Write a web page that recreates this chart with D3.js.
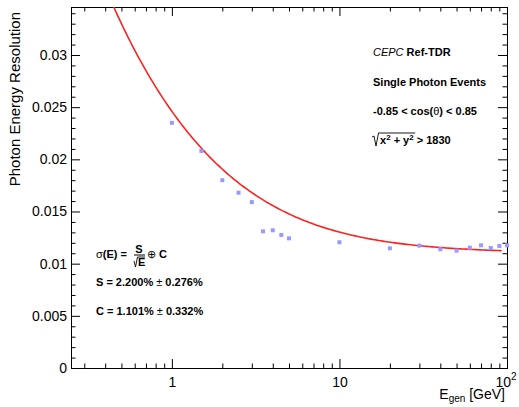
<!DOCTYPE html>
<html>
<head>
<meta charset="utf-8">
<script src="https://cdn.jsdelivr.net/npm/d3@7"></script>
<style>
  body { margin: 0; background: #fff; }
  text { font-family: "Liberation Sans", Arial, Helvetica, sans-serif; }
</style>
</head>
<body>
<script>
// chart data
var energies = [1, 1.5, 2, 2.5, 3, 3.5, 4, 4.5, 5, 10, 20, 30, 40, 50, 60, 70, 80, 90, 100];
var resolution = [0.0235, 0.0208, 0.0180, 0.0168, 0.0159, 0.0131, 0.0132, 0.01275, 0.01243,
                  0.01205, 0.01147, 0.01173, 0.01138, 0.01125, 0.01153, 0.01176, 0.0115, 0.0117, 0.01176];

// fit parameters shown in the legend (stochastic term S, constant term C)
var fitParams = [0.02200, 0.01101];
var fitRange = [0.4, 93];

var xMajor = [1, 10, 100];
var xMinor = [0.3, 0.4, 0.5, 0.6, 0.7, 0.8, 0.9, 2, 3, 4, 5, 6, 7, 8, 9, 20, 30, 40, 50, 60, 70, 80, 90];
var yMajor = [0, 0.005, 0.01, 0.015, 0.02, 0.025, 0.03];

var svgWidth = 519;
var svgHeight = 407;
var margin = { top: 7, right: 12, bottom: 39, left: 71 };
var chartWidth = svgWidth - margin.left - margin.right;
var chartHeight = svgHeight - margin.top - margin.bottom;

var svg = d3.select("body").append("svg")
  .attr("width", svgWidth)
  .attr("height", svgHeight);

var chartGroup = svg.append("g")
  .attr("transform", `translate(${margin.left}, ${margin.top})`);

// scales
var xScale = d3.scaleLog().domain([0.25, 100]).range([0, chartWidth]);
var yScale = d3.scaleLinear().domain([0, 0.0346]).range([chartHeight, 0]);

var yMinor = d3.range(1, 35).map(d => d / 1000).filter(d => d % 0.005 > 1e-9 && 0.005 - d % 0.005 > 1e-9);

// helper to draw ROOT style inward ticks
function drawAxis(axis, transform, labelled) {
  var g = chartGroup.append("g").attr("transform", transform).call(axis);
  g.select(".domain").remove();
  g.selectAll("line").attr("stroke", "#000");
  g.selectAll("text")
    .attr("font-size", 14)
    .attr("font-family", "Liberation Sans, Arial, sans-serif")
    .attr("fill", "#000");
  if (!labelled) g.selectAll("text").remove();
  return g;
}

// bottom axis
var bottomG = drawAxis(d3.axisBottom(xScale).tickValues(xMajor).tickSize(-9).tickPadding(9)
  .tickFormat(d => d == 100 ? "" : d3.format("d")(d)), `translate(0, ${chartHeight})`, true);
drawAxis(d3.axisBottom(xScale).tickValues(xMinor).tickSize(-4.5).tickFormat(""), `translate(0, ${chartHeight})`, false);

// top axis (mirrored ticks)
drawAxis(d3.axisTop(xScale).tickValues(xMajor).tickSize(-9).tickFormat(""), "translate(0,0)", false);
drawAxis(d3.axisTop(xScale).tickValues(xMinor).tickSize(-4.5).tickFormat(""), "translate(0,0)", false);

// left axis
drawAxis(d3.axisLeft(yScale).tickValues(yMajor).tickSize(-9).tickPadding(4)
  .tickFormat(d => String(+d.toFixed(3))), "translate(0,0)", true);
drawAxis(d3.axisLeft(yScale).tickValues(yMinor).tickSize(-4.5).tickFormat(""), "translate(0,0)", false);

// right axis (mirrored ticks)
drawAxis(d3.axisRight(yScale).tickValues(yMajor).tickSize(-9).tickFormat(""), `translate(${chartWidth},0)`, false);
drawAxis(d3.axisRight(yScale).tickValues(yMinor).tickSize(-4.5).tickFormat(""), `translate(${chartWidth},0)`, false);

// frame
chartGroup.append("rect")
  .attr("x", 0.5).attr("y", 0.5)
  .attr("width", chartWidth).attr("height", chartHeight)
  .attr("fill", "none").attr("stroke", "#000");

// 10^2 label at the right end
var expLabel = chartGroup.append("text")
  .attr("x", xScale(100) - 1)
  .attr("y", chartHeight + 19)
  .attr("text-anchor", "middle")
  .attr("font-size", 14);
expLabel.append("tspan").text("10");
expLabel.append("tspan").attr("dy", -7).attr("font-size", 10).text("2");

// fit curve
chartGroup.append("clipPath").attr("id", "frameClip")
  .append("rect").attr("width", chartWidth).attr("height", chartHeight);

var fitE = d3.range(0, 201).map(i => fitRange[0] * Math.pow(fitRange[1] / fitRange[0], i / 200));
var fitLine = d3.line()
  .x(d => xScale(d))
  .y(d => yScale(Math.sqrt(fitParams[0] * fitParams[0] / d + fitParams[1] * fitParams[1])));

chartGroup.append("path")
  .datum(fitE)
  .attr("clip-path", "url(#frameClip)")
  .attr("d", fitLine)
  .attr("fill", "none")
  .attr("stroke", "#ff2020")
  .attr("stroke-width", 1.6);

// data points
chartGroup.selectAll(".pt")
  .data(energies)
  .enter()
  .append("rect")
  .attr("class", "pt")
  .attr("x", (d, i) => xScale(d) - 2)
  .attr("y", (d, i) => yScale(resolution[i]) - 2)
  .attr("width", 4)
  .attr("height", 4)
  .attr("fill", "#9999ff");

// axis titles
svg.append("text")
  .attr("transform", "translate(19.5, 12) rotate(-90)")
  .attr("text-anchor", "end")
  .attr("font-size", 15)
  .text("Photon Energy Resolution");

var xTitle = svg.append("text")
  .attr("x", 505)
  .attr("y", 399)
  .attr("text-anchor", "end")
  .attr("font-size", 14);
xTitle.append("tspan").text("E");
xTitle.append("tspan").attr("font-size", 10).attr("dy", 3).text("gen");
xTitle.append("tspan").attr("dy", -3).text(" [GeV]");

// annotations, top right
var t1 = svg.append("text").attr("x", 373).attr("y", 56).attr("font-size", 11);
t1.append("tspan").attr("font-style", "italic").text("CEPC");
t1.append("tspan").attr("font-weight", "bold").text(" Ref-TDR");

svg.append("text").attr("x", 373).attr("y", 86).attr("font-size", 11)
  .attr("font-weight", "bold").text("Single Photon Events");

var t3 = svg.append("text").attr("x", 373).attr("y", 115).attr("font-size", 11).attr("font-weight", "bold");
t3.append("tspan").text("-0.85 < cos(");
t3.append("tspan").attr("font-weight", "normal").text("\u03b8");
t3.append("tspan").text(") < 0.85");

// sqrt(x^2 + y^2) > 1830
var t4 = svg.append("text").attr("x", 380).attr("y", 144).attr("font-size", 11).attr("font-weight", "bold");
t4.append("tspan").text("x");
t4.append("tspan").attr("dy", -4).attr("font-size", 8).text("2");
t4.append("tspan").attr("dy", 4).text(" + y");
t4.append("tspan").attr("dy", -4).attr("font-size", 8).text("2");
var radEnd = t4.node().getBBox();
t4.append("tspan").attr("dy", 4).text(" > 1830");
svg.append("path")
  .attr("d", `M372,137 L374,136 L376,146 L378.5,133 L${radEnd.x + radEnd.width + 1},133`)
  .attr("fill", "none").attr("stroke", "#000").attr("stroke-width", 0.9);

// fit formula, bottom left
svg.append("text").attr("x", 96).attr("y", 258).attr("font-size", 11).attr("font-weight", "bold")
  .html("<tspan font-weight='normal'>\u03c3</tspan>(E) = ");
svg.append("text").attr("x", 139).attr("y", 253).attr("font-size", 11).attr("font-weight", "bold")
  .attr("text-anchor", "middle").text("S");
svg.append("line").attr("x1", 134).attr("x2", 145).attr("y1", 255).attr("y2", 255)
  .attr("stroke", "#000").attr("stroke-width", 1);
svg.append("text").attr("x", 138).attr("y", 266).attr("font-size", 11).attr("font-weight", "bold")
  .text("E");
svg.append("path").attr("d", "M134,261 L135.5,267 L137.5,257 L145,257")
  .attr("fill", "none").attr("stroke", "#000").attr("stroke-width", 0.9);
svg.append("text").attr("x", 147).attr("y", 258).attr("font-size", 11).attr("font-weight", "bold")
  .html("<tspan font-weight='normal'>\u2295</tspan> C");

svg.append("text").attr("x", 96).attr("y", 286).attr("font-size", 11).attr("font-weight", "bold")
  .html(`S = ${(fitParams[0] * 100).toFixed(3)}% <tspan font-weight='normal'>\u00b1</tspan> 0.276%`);
svg.append("text").attr("x", 96).attr("y", 315).attr("font-size", 11).attr("font-weight", "bold")
  .html(`C = ${(fitParams[1] * 100).toFixed(3)}% <tspan font-weight='normal'>\u00b1</tspan> 0.332%`);
</script>
</body>
</html>
